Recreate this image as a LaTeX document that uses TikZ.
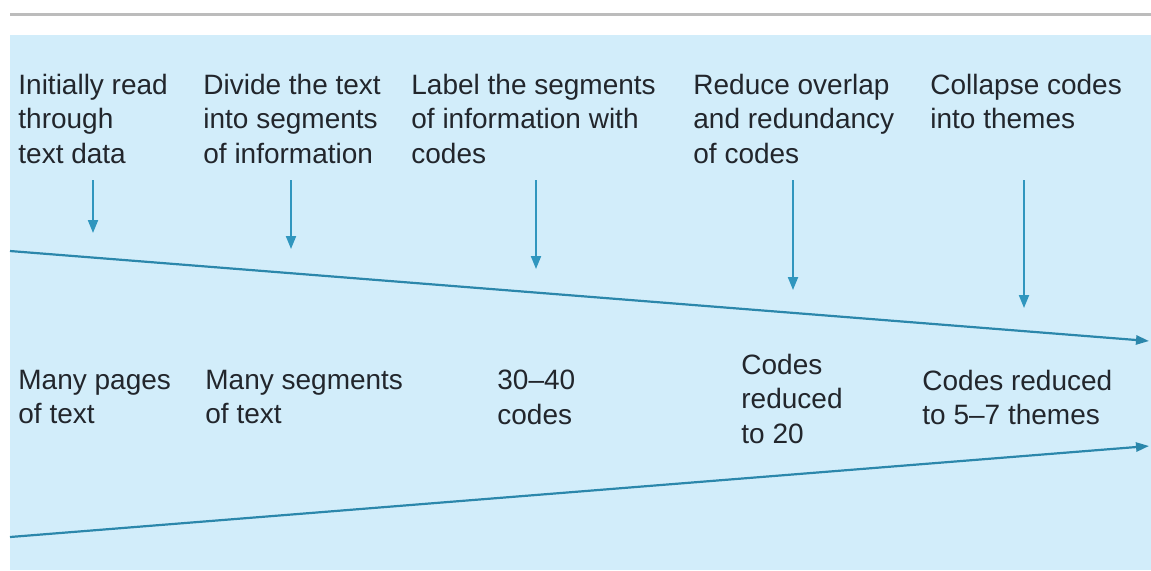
\documentclass[tikz,border=0pt]{standalone}
\usepackage{fontspec}
\setmainfont{Liberation Sans}
\usetikzlibrary{arrows.meta}
\definecolor{panelbg}{RGB}{210,237,250}
\definecolor{flowc}{RGB}{48,150,190}
\definecolor{rulegray}{RGB}{188,188,188}
\definecolor{txtc}{RGB}{34,38,44}
\tikzset{
  stagetxt/.style={anchor=north west,inner sep=0pt,align=left,text=txtc,
                   font=\fontsize{14}{17.1}\selectfont},
  downarr/.style={-{Triangle[length=6.5pt,width=5pt]},line width=1pt,flowc},
  funnel/.style={-{Triangle[length=6.5pt,width=4.6pt]},line width=1.1pt,flowc!90!black},
}

\begin{document}
\begin{tikzpicture}[x=0.5pt,y=-0.5pt]
  \useasboundingbox (0,0) rectangle (1151,570);
  \fill[white] (0,0) rectangle (1151,570);
  \draw[rulegray,line width=1.5pt] (10,14) -- (1151,14);
  \fill[panelbg] (10,35) rectangle (1151,570);

  % steps of the analysis
  \node[stagetxt] (s1) at (18,74)  {Initially read\\through\\text data};
  \node[stagetxt] (s2) at (203,74) {Divide the text\\into segments\\of information};
  \node[stagetxt] (s3) at (411,74) {Label the segments\\of information with\\codes};
  \node[stagetxt] (s4) at (693,74) {Reduce overlap\\and redundancy\\of codes};
  \node[stagetxt] (s5) at (930,74) {Collapse codes\\into themes};

  % what each step leaves
  \node[stagetxt] (r1) at (18,370)  {Many pages\\of text};
  \node[stagetxt] (r2) at (205,370) {Many segments\\of text};
  \node[stagetxt] (r3) at (497,370) {30--40\\codes};
  \node[stagetxt] (r4) at (741,354) {Codes\\reduced\\to 20};
  \node[stagetxt] (r5) at (922,370) {Codes reduced\\to 5--7 themes};

  % narrowing lines
  \coordinate (up0) at (10,251);
  \coordinate (up1) at (1149,341);
  \coordinate (lo0) at (10,537);
  \coordinate (lo1) at (1149,446);
  \draw[funnel] (up0) -- (up1);
  \draw[funnel] (lo0) -- (lo1);

  % arrows from the steps
  \coordinate (a1) at (93,180);   \coordinate (b1) at (93,233);
  \coordinate (a2) at (291,180);  \coordinate (b2) at (291,249);
  \coordinate (a3) at (536,180);  \coordinate (b3) at (536,269);
  \coordinate (a4) at (793,180);  \coordinate (b4) at (793,290);
  \coordinate (a5) at (1024,180); \coordinate (b5) at (1024,308);
  \draw[downarr] (a1) -- (b1);
  \draw[downarr] (a2) -- (b2);
  \draw[downarr] (a3) -- (b3);
  \draw[downarr] (a4) -- (b4);
  \draw[downarr] (a5) -- (b5);
\end{tikzpicture}
\end{document}
